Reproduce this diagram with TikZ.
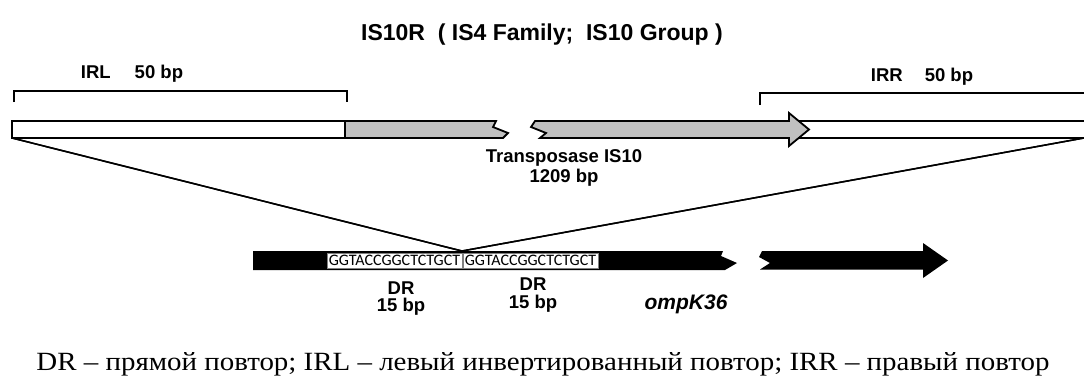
\documentclass[tikz,border=0pt]{standalone}
\usepackage{fontspec}
\usepackage{graphicx}
\setmainfont{Liberation Sans}
\newfontfamily\serifcap{Liberation Serif}
\newfontfamily\seqfont{Carlito}
\definecolor{grayfill}{RGB}{192,192,192}
\tikzset{
  lbl/.style={font=\fontsize{18.5}{20}\selectfont\bfseries, inner sep=0pt},
  ttl/.style={font=\fontsize{23}{25}\selectfont\bfseries, inner sep=0pt},
  seqbox/.style={draw=gray, line width=0.6pt, fill=white, inner sep=0pt, minimum width=135pt, minimum height=15pt, font=\fontsize{16}{16}\seqfont},
  outl/.style={draw=black, line width=1.8pt, line join=miter},
  diag/.style={draw=black, line width=1.5pt},
  brk/.style={draw=black, line width=1.5pt}
}
\begin{document}
\begin{tikzpicture}[x=1pt,y=-1pt]
\useasboundingbox (0,0) rectangle (1084,388);
% title
\node[ttl] (title) at (542,35) {IS10R\ \ ( IS4 Family;\ \ IS10 Group )};
% brackets
\coordinate (irlA) at (14,102);
\coordinate (irlB) at (347,102);
\draw[brk] (irlA) -- (14,91) -- (347,91) -- (irlB);
\node[lbl] (irl) at (132,74) {IRL\hspace{24pt}50 bp};
\coordinate (irrA) at (760,105);
\draw[brk] (irrA) -- (760,93) -- (1090,93);
\node[lbl] (irr) at (922,77) {IRR\hspace{22pt}50 bp};
% diagonal lines
\coordinate (tl) at (12,138);
\coordinate (tr) at (1084,138);
\coordinate (junc) at (462,251);
\draw[diag] (tl) -- (junc);
\draw[diag] (tr) -- (junc);
% top bar
\draw[outl, fill=white] (789,121) -- (1090,121) -- (1090,138) -- (789,138);
\draw[outl, fill=white] (12,121) rectangle (345,138);
\draw[outl, fill=grayfill] (345,121) -- (496,121) -- (493,127) -- (508,133) -- (503,138) -- (345,138) -- cycle;
\draw[outl, fill=grayfill] (535,121) -- (789,121) -- (789,113) -- (809,129.5) -- (789,146) -- (789,138) -- (540,138) -- (546,133) -- (531,127) -- cycle;
\node[lbl] (tpase) at (564,158) {Transposase IS10};
\node[lbl] (tlen) at (564,178) {1209 bp};
% lower bar
\fill[black] (253,251) -- (723,251) -- (721,256) -- (737,263) -- (725,270) -- (253,270) -- cycle;
\fill[black] (762,251) -- (923,251) -- (923,243) -- (948,260.5) -- (923,278) -- (923,269.5) -- (760,269.5) -- (770,263) -- (759,257) -- cycle;
\node[seqbox] (dr1) at (394.5,260.5) {GGTACCGGCTCTGCT};
\node[seqbox] (dr2) at (530.5,260.5) {GGTACCGGCTCTGCT};
\draw[diag] (tl) -- (junc);
\draw[diag] (tr) -- (junc);
\node[lbl] (drl1) at (401,288) {DR};
\node[lbl] (drs1) at (401,307) {15 bp};
\node[lbl] (drl2) at (533,284) {DR};
\node[lbl] (drs2) at (533,304) {15 bp};
\node[lbl, font=\fontsize{21}{23}\selectfont\bfseries\itshape] (omp) at (686,304) {ompK36};
% caption
\node[inner sep=0pt, anchor=base] (cap) at (543,370) {\resizebox{1013pt}{18pt}{\serifcap DR – прямой повтор; IRL – левый инвертированный повтор; IRR – правый повтор}};
\end{tikzpicture}
\end{document}
